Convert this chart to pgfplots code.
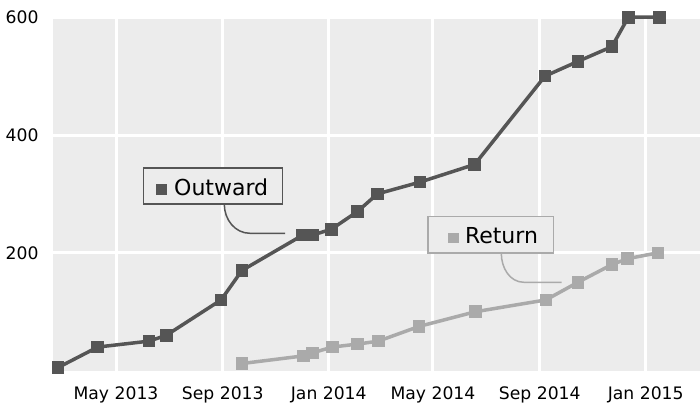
\documentclass[border=0pt]{standalone}
\usepackage{pgfplots}
\pgfplotsset{compat=1.18}
\usepackage{fontspec}
\setmainfont{DejaVu Sans}
\definecolor{outc}{HTML}{555555}
\definecolor{retc}{HTML}{AAAAAA}
\definecolor{bgc}{HTML}{ECECEC}
\begin{document}
\begin{tikzpicture}
\useasboundingbox (0pt,0pt) rectangle (700pt,404pt);
\begin{axis}[
  at={(52.7pt,33.4pt)}, anchor=south west, scale only axis,
  width=647.3pt, height=353.4pt,
  xmin=47.1, xmax=792.5, ymin=0, ymax=600,
  axis background/.style={fill=bgc},
  axis line style={draw=none},
  major tick length=0pt,
  xtick={120,243,365,485,608,730},
  xticklabels={May 2013,Sep 2013,Jan 2014,May 2014,Sep 2014,Jan 2015},
  ytick={200,400,600},
  yticklabels={200,400,600},
  xmajorgrids, ymajorgrids,
  major grid style={white, line width=3pt},
  tick label style={font=\fontsize{17.2}{20}\selectfont, text=black},
  xticklabel style={anchor=base, yshift=-29pt, inner sep=0pt},
  yticklabel style={anchor=east, xshift=-14pt, inner sep=0pt},
  clip=false,
  /pgf/number format/assume math mode=true,
]
\addplot[color=retc, line width=3.5pt, mark=square*, mark size=5.8pt,
  mark options={solid, line width=0pt, fill=retc, draw=retc}] coordinates {
  (265,12) (336,25) (346,30) (369,40) (398,45) (422,50) (469,75)
  (534,100) (615,120) (652,150) (691,180) (709,190) (744,200)
};
\addplot[color=outc, line width=3.5pt, mark=square*, mark size=5.8pt,
  mark options={solid, line width=0pt, fill=outc, draw=outc}] coordinates {
  (53,5) (99,40) (158,50) (178,60) (241,120) (265,170) (335,230) (346,230)
  (368,240) (398,270) (421,300) (470,320) (533,350) (614,500) (652,525)
  (691,550) (710,600) (746,600)
};
\end{axis}
% annotation: Outward
\draw[outc, line width=1.5pt] (224.3pt,199.7pt) to[out=-90,in=180] (250pt,170.7pt) -- (285pt,170.7pt);
\draw[outc, line width=1.6pt, fill=bgc] (143.3pt,235.7pt) rectangle (282.3pt,199.7pt);
\node[anchor=base west, inner sep=0pt, font=\fontsize{22}{26}\selectfont] at (156pt,208.7pt)
  {\textcolor{outc}{\rule{11pt}{11pt}}\hspace{7pt}Outward};
% annotation: Return
\draw[retc, line width=1.5pt] (501.3pt,150.7pt) to[out=-90,in=180] (524pt,121.7pt) -- (561.7pt,121.7pt);
\draw[retc, line width=1.6pt, fill=bgc] (427.7pt,187.3pt) rectangle (553.3pt,150.7pt);
\node[anchor=base west, inner sep=0pt, font=\fontsize{22}{26}\selectfont] at (447.7pt,160.7pt)
  {\textcolor{retc}{\rule{10.6pt}{10.6pt}}\hspace{6.5pt}Return};
\end{tikzpicture}
\end{document}
